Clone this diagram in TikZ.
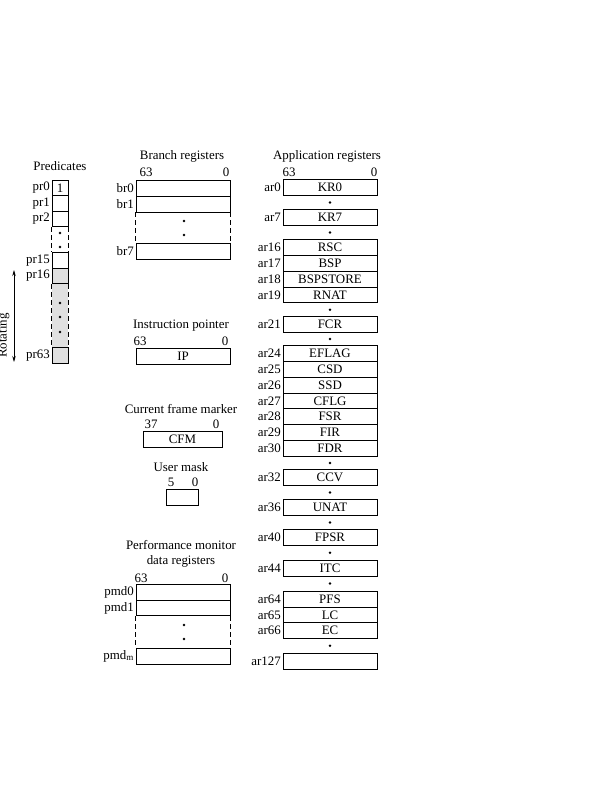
\documentclass[tikz,border=0pt]{standalone}
\usepackage{fontspec}
\setmainfont{Liberation Serif}
\usetikzlibrary{positioning,arrows.meta}

\begin{document}
\begin{tikzpicture}[x=1pt, y=-1pt, line width=0.7pt, font=\fontsize{12.9}{15}\selectfont,
    reg/.style={draw, rectangle, minimum width=94pt, minimum height=15.8pt, inner sep=0pt},
    cell/.style={draw, rectangle, minimum width=16pt, minimum height=15.5pt, inner sep=0pt},
    lbl/.style={inner sep=0.5pt},
    dot/.style={circle, fill, inner sep=0pt, minimum size=2.8pt},
    gap/.style={dash pattern=on 5pt off 3pt}]
    \useasboundingbox (0,0) rectangle (604,800);

    % predicates
    \node (predtitle) at (60,166) {Predicates};
    \node[cell] (p0) at (60,188) {1};          \node[lbl, left=1pt of p0] (pr0) {pr0};
    \node[cell] (p1) at (60,203.5) {};         \node[lbl, left=1pt of p1] (pr1) {pr1};
    \node[cell] (p2) at (60,219) {};           \node[lbl, left=1pt of p2] (pr2) {pr2};
    \node[cell] (p15) at (60,260.25) {};       \node[lbl, left=1pt of p15] (pr15) {pr15};
    \node[cell, fill=black!12] (p16) at (60,275.75) {};  \node[lbl, left=1pt of p16] (pr16) {pr16};
    \node[cell, fill=black!12] (p63) at (60,355.25) {};  \node[lbl, left=1pt of p63] (pr63) {pr63};
    \fill[black!12] (p16.south west) rectangle (p63.north east);
    \draw[gap] (p2.south west) -- (p15.north west);
    \draw[gap] (p2.south east) -- (p15.north east);
    \draw[gap] (p16.south west) -- (p63.north west);
    \draw[gap] (p16.south east) -- (p63.north east);
    \node[dot] (pd1) at (60,233) {};
    \node[dot] (pd2) at (60,247) {};
    \node[dot] (pd3) at (60,303) {};
    \node[dot] (pd4) at (60,317) {};
    \node[dot] (pd5) at (60,332) {};
    \coordinate (rtop) at (14,270);
    \coordinate (rbot) at (14,362);
    \draw[{Stealth[length=6pt,width=3.5pt]}-{Stealth[length=6pt,width=3.5pt]}] (rtop) -- (rbot);
    \node[lbl, rotate=90, anchor=base] (rot) at (6.5,335.5) {Rotating};

    % branch registers
    \node (brtitle) at (182,156) {Branch registers};
    \node (brhi) at (146,172) {63};
    \node (brlo) at (226,172) {0};
    \node[reg, minimum height=16pt] (b0) at (183,188) {};   \node[lbl, left=1pt of b0] (br0) {br0};
    \node[reg, minimum height=16pt] (b1) at (183,204) {};   \node[lbl, left=1pt of b1] (br1) {br1};
    \node[reg, minimum height=15.5pt] (b7) at (183,251.5) {}; \node[lbl, left=1pt of b7] (br7) {br7};
    \draw[gap] (b1.south west) -- (b7.north west);
    \draw[gap] (b1.south east) -- (b7.north east);
    \node[dot] (bd1) at (184,221) {};
    \node[dot] (bd2) at (184,235) {};

    % instruction pointer
    \node (iptitle) at (181,326) {Instruction pointer};
    \node (iphi) at (140,341) {63};
    \node (iplo) at (225,341) {0};
    \node[reg, minimum height=16pt] (ip) at (183,356) {IP};

    % current frame marker
    \node (cfmtitle) at (181,409) {Current frame marker};
    \node (cfmhi) at (151,424) {37};
    \node (cfmlo) at (216,424) {0};
    \node[reg, minimum width=79pt, minimum height=16pt] (cfm) at (182.5,439) {CFM};

    % user mask
    \node (umtitle) at (181,467) {User mask};
    \node (umhi) at (171,482) {5};
    \node (umlo) at (195,482) {0};
    \node[reg, minimum width=32pt, minimum height=16pt] (um) at (182,497) {};

    % performance monitor data registers
    \node[align=center] (pmdtitle) at (181,553.5) {Performance monitor\\data registers};
    \node (pmdhi) at (141,578) {63};
    \node (pmdlo) at (225,578) {0};
    \node[reg, minimum height=15.5pt] (m0) at (183,592.5) {};  \node[lbl, left=1pt of m0] (pmd0) {pmd0};
    \node[reg, minimum height=15.5pt] (m1) at (183,608) {};    \node[lbl, left=1pt of m1] (pmd1) {pmd1};
    \node[reg, minimum height=16pt] (mm) at (183,656) {};      \node[lbl, left=1pt of mm] (pmdm) {pmd\textsubscript{m}};
    \draw[gap] (m1.south west) -- (mm.north west);
    \draw[gap] (m1.south east) -- (mm.north east);
    \node[dot] (md1) at (184,625) {};
    \node[dot] (md2) at (184,639) {};

    % application registers
    \node (artitle) at (327,156) {Application registers};
    \node (arhi) at (289,172) {63};
    \node (arlo) at (374,172) {0};
    \node[reg] (kr0) at (330,187.5) {KR0};        \node[lbl, left=1pt of kr0] (ar0) {ar0};
    \node[reg] (kr7) at (330,217.5) {KR7};        \node[lbl, left=1pt of kr7] (ar7) {ar7};
    \node[reg] (rsc) at (330,247.5) {RSC};        \node[lbl, left=1pt of rsc] (ar16) {ar16};
    \node[reg] (bsp) at (330,263.3) {BSP};        \node[lbl, left=1pt of bsp] (ar17) {ar17};
    \node[reg] (bspst) at (330,279.1) {BSPSTORE}; \node[lbl, left=1pt of bspst] (ar18) {ar18};
    \node[reg] (rnat) at (330,294.9) {RNAT};      \node[lbl, left=1pt of rnat] (ar19) {ar19};
    \node[reg] (fcr) at (330,324.5) {FCR};        \node[lbl, left=1pt of fcr] (ar21) {ar21};
    \node[reg] (eflag) at (330,353.5) {EFLAG};    \node[lbl, left=1pt of eflag] (ar24) {ar24};
    \node[reg] (csd) at (330,369.3) {CSD};        \node[lbl, left=1pt of csd] (ar25) {ar25};
    \node[reg] (ssd) at (330,385.1) {SSD};        \node[lbl, left=1pt of ssd] (ar26) {ar26};
    \node[reg] (cflg) at (330,400.9) {CFLG};      \node[lbl, left=1pt of cflg] (ar27) {ar27};
    \node[reg] (fsr) at (330,416.7) {FSR};        \node[lbl, left=1pt of fsr] (ar28) {ar28};
    \node[reg] (fir) at (330,432.5) {FIR};        \node[lbl, left=1pt of fir] (ar29) {ar29};
    \node[reg] (fdr) at (330,448.3) {FDR};        \node[lbl, left=1pt of fdr] (ar30) {ar30};
    \node[reg] (ccv) at (330,477.5) {CCV};        \node[lbl, left=1pt of ccv] (ar32) {ar32};
    \node[reg] (unat) at (330,507.5) {UNAT};      \node[lbl, left=1pt of unat] (ar36) {ar36};
    \node[reg] (fpsr) at (330,537.5) {FPSR};      \node[lbl, left=1pt of fpsr] (ar40) {ar40};
    \node[reg] (itc) at (330,568) {ITC};          \node[lbl, left=1pt of itc] (ar44) {ar44};
    \node[reg] (pfs) at (330,599) {PFS};          \node[lbl, left=1pt of pfs] (ar64) {ar64};
    \node[reg] (lc) at (330,614.8) {LC};          \node[lbl, left=1pt of lc] (ar65) {ar65};
    \node[reg] (ec) at (330,630.6) {EC};          \node[lbl, left=1pt of ec] (ar66) {ar66};
    \node[reg] (r127) at (330,661) {};            \node[lbl, left=1pt of r127] (ar127) {ar127};
    \node[dot] (ad1) at (330,202.5) {};
    \node[dot] (ad2) at (330,232.5) {};
    \node[dot] (ad3) at (330,309.7) {};
    \node[dot] (ad4) at (330,339) {};
    \node[dot] (ad5) at (330,462.9) {};
    \node[dot] (ad6) at (330,492.5) {};
    \node[dot] (ad7) at (330,522.5) {};
    \node[dot] (ad8) at (330,552.7) {};
    \node[dot] (ad9) at (330,583.5) {};
    \node[dot] (ad10) at (330,645.8) {};
\end{tikzpicture}
\end{document}
